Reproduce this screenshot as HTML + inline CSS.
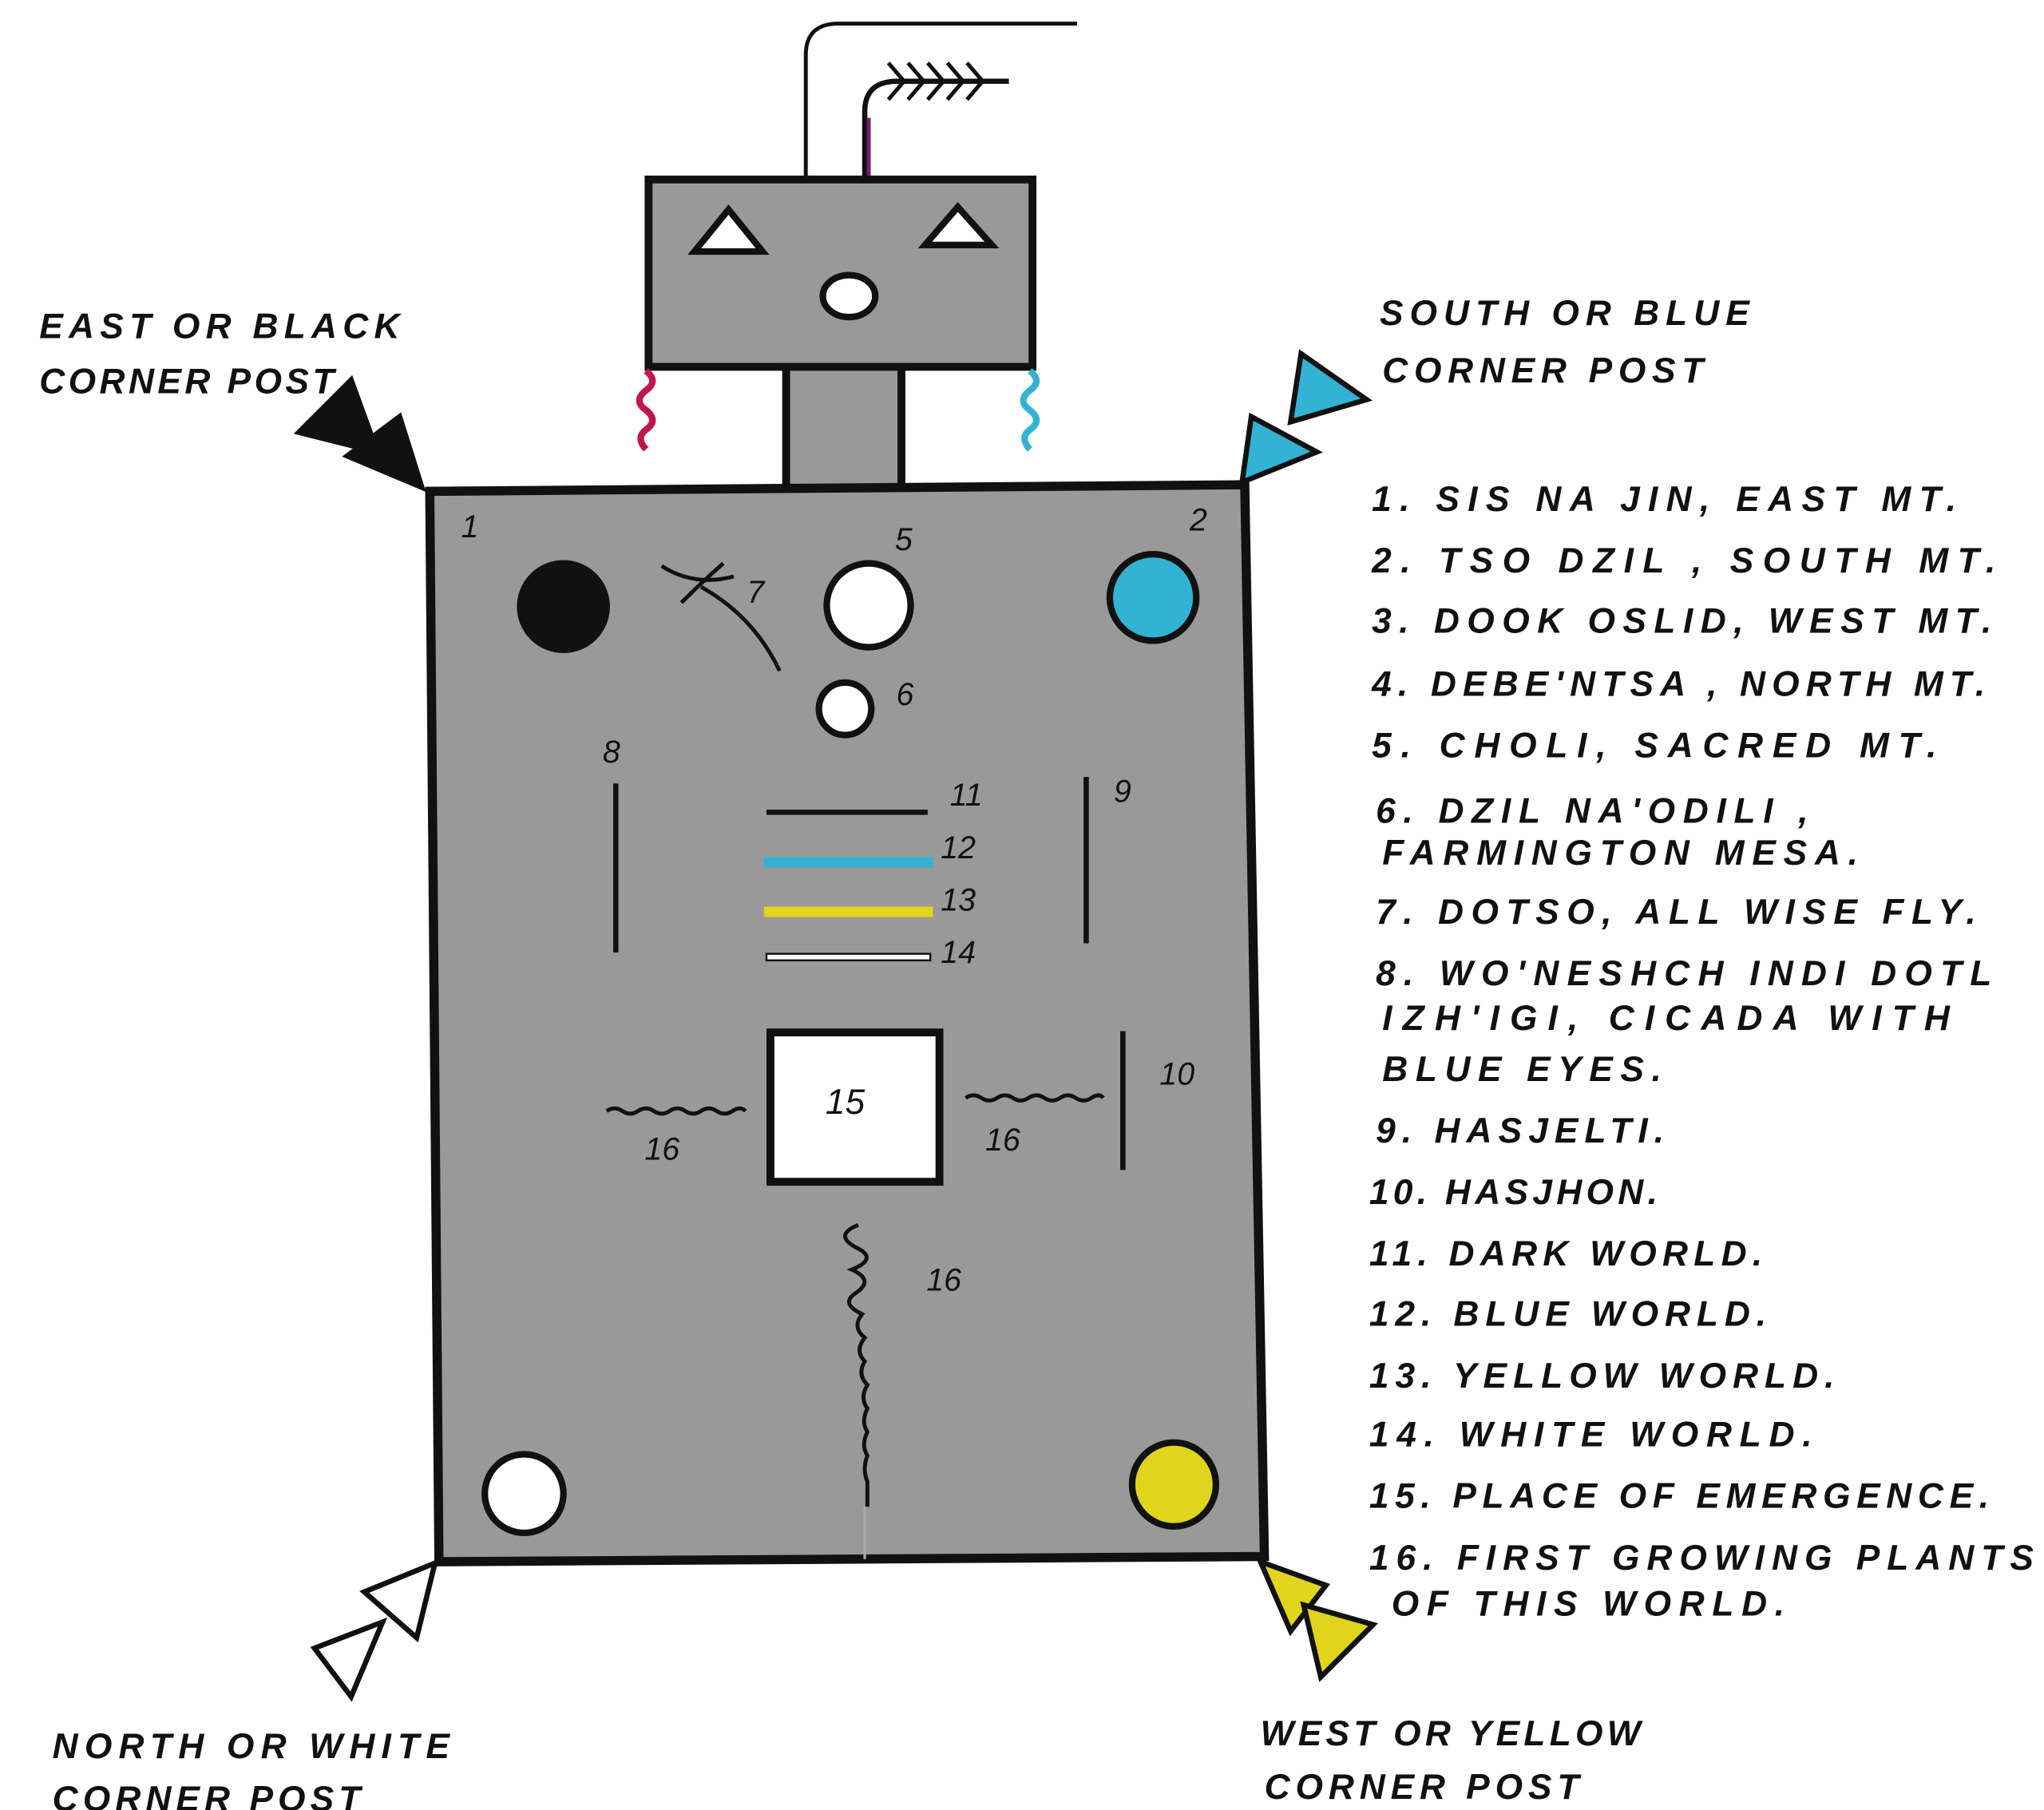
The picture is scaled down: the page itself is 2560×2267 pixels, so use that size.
<!DOCTYPE html>
<html><head><meta charset="utf-8"><style>
html,body{margin:0;padding:0;background:#fff;}
svg{display:block;}
text{font-family:"Liberation Sans",sans-serif;font-style:italic;font-weight:bold;fill:#111;}
.l{font-size:27px;}
.n{font-size:24px;font-weight:normal;}
</style></head><body>
<svg width="2560" height="2267" viewBox="0 0 1560 1381.5" preserveAspectRatio="none" xmlns="http://www.w3.org/2000/svg">
<rect width="1560" height="1382" fill="#fff"/>
<!-- antenna -->
<path d="M615,137 V42 Q615,18 640,18 H822" fill="none" stroke="#111" stroke-width="3"/>
<path d="M660,137 V85 Q660,62 685,62 H770" fill="none" stroke="#111" stroke-width="4"/>
<path d="M663,137 V90" fill="none" stroke="#7a1a6a" stroke-width="3"/>
<g stroke="#111" stroke-width="3" fill="none">
<path d="M690,62 l-12,-14 M690,62 l-12,14 M705,62 l-12,-14 M705,62 l-12,14 M720,62 l-12,-14 M720,62 l-12,14 M735,62 l-12,-14 M735,62 l-12,14 M750,62 l-12,-14 M750,62 l-12,14"/>
</g>
<!-- head -->
<rect x="495" y="137" width="293" height="143" fill="#999" stroke="#111" stroke-width="6"/>
<polygon points="530,192 556,160 582,192" fill="#fff" stroke="#111" stroke-width="5"/>
<polygon points="706,187 731,158 757,187" fill="#fff" stroke="#111" stroke-width="5"/>
<ellipse cx="648" cy="226" rx="20" ry="16" fill="#fff" stroke="#111" stroke-width="5"/>
<!-- neck -->
<rect x="600" y="280" width="88" height="94" fill="#999" stroke="#111" stroke-width="6"/>
<path d="M493,283 q10,8 0,15 q-10,8 0,15 q10,8 0,15 q-8,6 0,15" fill="none" stroke="#c0164a" stroke-width="5"/>
<path d="M786,283 q10,8 0,15 q-10,8 0,15 q10,8 0,15 q-8,6 0,15" fill="none" stroke="#33b3d3" stroke-width="5"/>
<!-- body -->
<polygon points="328,375 950,370 965,1188 335,1192" fill="#999" stroke="#111" stroke-width="7"/>
<!-- corner triangles -->
<polygon points="228,330 268,290 288,345" fill="#111" stroke="#111" stroke-width="4"/>
<polygon points="265,348 305,318 322,372" fill="#111" stroke="#111" stroke-width="4"/>
<polygon points="993,270 1043,305 985,322" fill="#33b3d3" stroke="#111" stroke-width="4"/>
<polygon points="955,318 1005,345 948,368" fill="#33b3d3" stroke="#111" stroke-width="4"/>
<polygon points="278,1215 332,1193 318,1250" fill="#fff" stroke="#111" stroke-width="4"/>
<polygon points="240,1258 292,1238 268,1295" fill="#fff" stroke="#111" stroke-width="4"/>
<polygon points="962,1192 1012,1210 985,1245" fill="#e1d41c" stroke="#111" stroke-width="4"/>
<polygon points="995,1225 1048,1240 1008,1280" fill="#e1d41c" stroke="#111" stroke-width="4"/>
<!-- circles -->
<circle cx="430" cy="463" r="33" fill="#111" stroke="#111" stroke-width="5"/>
<circle cx="663" cy="462" r="32" fill="#fff" stroke="#111" stroke-width="5"/>
<circle cx="880" cy="456" r="33" fill="#33b3d3" stroke="#111" stroke-width="5"/>
<circle cx="645" cy="541" r="20" fill="#fff" stroke="#111" stroke-width="5"/>
<circle cx="400" cy="1140" r="30" fill="#fff" stroke="#111" stroke-width="5"/>
<circle cx="896" cy="1133" r="32" fill="#e1d41c" stroke="#111" stroke-width="5"/>
<!-- fly -->
<path d="M505,432 Q530,448 560,440 M520,460 Q535,445 552,430 M535,448 Q575,470 595,512" fill="none" stroke="#111" stroke-width="3"/>
<!-- lines -->
<line x1="470" y1="598" x2="470" y2="727" stroke="#111" stroke-width="4"/>
<line x1="829" y1="593" x2="829" y2="720" stroke="#111" stroke-width="4"/>
<line x1="857" y1="787" x2="857" y2="893" stroke="#111" stroke-width="4"/>
<line x1="585" y1="620" x2="708" y2="620" stroke="#111" stroke-width="4"/>
<line x1="583" y1="658" x2="712" y2="658" stroke="#33b3d3" stroke-width="8"/>
<line x1="583" y1="696" x2="712" y2="696" stroke="#e1d41c" stroke-width="8"/>
<rect x="585" y="728" width="125" height="5" fill="#fff" stroke="#111" stroke-width="1.5"/>
<rect x="588" y="788" width="129" height="114" fill="#fff" stroke="#111" stroke-width="6"/>
<path d="M463,848 q6,-4 12,0 q6,4 12,0 q6,-4 12,0 q6,4 12,0 q6,-4 12,0 q6,4 12,0 q6,-4 12,0 q6,4 12,0 q6,-4 10,0" fill="none" stroke="#111" stroke-width="3"/>
<path d="M737,838 q6,-4 12,0 q6,4 12,0 q6,-4 12,0 q6,4 12,0 q6,-4 12,0 q6,4 12,0 q6,-4 12,0 q6,4 12,0 q6,-4 9,0" fill="none" stroke="#111" stroke-width="3"/>
<path d="M655,935 q-20,8 0,18 q15,8 -5,16 q18,8 3,18 q-12,8 5,16 q-8,10 2,18 q-8,10 0,18 q-6,10 2,18 q-6,10 0,18 q-5,10 0,18 q-5,10 0,18 q-4,10 0,20 V1150" fill="none" stroke="#111" stroke-width="3"/>
<line x1="660" y1="1150" x2="660" y2="1190" stroke="#aaa" stroke-width="2"/>
<!-- numbers -->
<text class="n" x="352" y="410">1</text>
<text class="n" x="683" y="420">5</text>
<text class="n" x="908" y="405">2</text>
<text class="n" x="570" y="460">7</text>
<text class="n" x="684" y="538">6</text>
<text class="n" x="460" y="582">8</text>
<text class="n" x="850" y="612">9</text>
<text class="n" x="725" y="615">11</text>
<text class="n" x="718" y="655">12</text>
<text class="n" x="718" y="695">13</text>
<text class="n" x="718" y="735">14</text>
<text class="n" x="885" y="828">10</text>
<text class="l" x="630" y="850" style="font-weight:normal">15</text>
<text class="n" x="492" y="885">16</text>
<text class="n" x="752" y="878">16</text>
<text class="n" x="707" y="985">16</text>
<!-- corner labels -->
<text class="l" x="30" y="258" textLength="275" lengthAdjust="spacing">EAST OR BLACK</text>
<text class="l" x="30" y="300" textLength="225" lengthAdjust="spacing">CORNER POST</text>
<text class="l" x="1053" y="248" textLength="282" lengthAdjust="spacing">SOUTH OR BLUE</text>
<text class="l" x="1055" y="292" textLength="245" lengthAdjust="spacing">CORNER  POST</text>
<text class="l" x="40" y="1342" textLength="303" lengthAdjust="spacing">NORTH OR WHITE</text>
<text class="l" x="40" y="1382" textLength="235" lengthAdjust="spacing">CORNER POST</text>
<text class="l" x="962" y="1332" textLength="290" lengthAdjust="spacing">WEST OR YELLOW</text>
<text class="l" x="965" y="1373" textLength="240" lengthAdjust="spacing">CORNER POST</text>
<!-- legend -->
<text class="l" x="1047" y="390" textLength="446" lengthAdjust="spacing">1. SIS NA JIN, EAST MT.</text>
<text class="l" x="1047" y="437" textLength="476" lengthAdjust="spacing">2. TSO DZIL ,  SOUTH MT.</text>
<text class="l" x="1047" y="483" textLength="473" lengthAdjust="spacing">3. DOOK OSLID, WEST MT.</text>
<text class="l" x="1047" y="531" textLength="468" lengthAdjust="spacing">4. DEBE'NTSA , NORTH MT.</text>
<text class="l" x="1047" y="578" textLength="431" lengthAdjust="spacing">5. CHOLI,  SACRED MT.</text>
<text class="l" x="1050" y="628" textLength="330" lengthAdjust="spacing">6. DZIL NA'ODILI ,</text>
<text class="l" x="1055" y="660" textLength="363" lengthAdjust="spacing">FARMINGTON MESA.</text>
<text class="l" x="1050" y="705" textLength="458" lengthAdjust="spacing">7. DOTSO, ALL WISE FLY.</text>
<text class="l" x="1050" y="752" textLength="470" lengthAdjust="spacing">8. WO'NESHCH  INDI DOTL</text>
<text class="l" x="1055" y="786" textLength="433" lengthAdjust="spacing">IZH'IGI, CICADA WITH</text>
<text class="l" x="1055" y="825" textLength="213" lengthAdjust="spacing">BLUE EYES.</text>
<text class="l" x="1050" y="872" textLength="220" lengthAdjust="spacing">9. HASJELTI.</text>
<text class="l" x="1045" y="919" textLength="220" lengthAdjust="spacing">10. HASJHON.</text>
<text class="l" x="1045" y="966" textLength="300" lengthAdjust="spacing">11. DARK WORLD.</text>
<text class="l" x="1045" y="1012" textLength="303" lengthAdjust="spacing">12. BLUE WORLD.</text>
<text class="l" x="1045" y="1059" textLength="355" lengthAdjust="spacing">13. YELLOW WORLD.</text>
<text class="l" x="1045" y="1104" textLength="338" lengthAdjust="spacing">14. WHITE WORLD.</text>
<text class="l" x="1045" y="1151" textLength="473" lengthAdjust="spacing">15. PLACE OF EMERGENCE.</text>
<text class="l" x="1045" y="1198" textLength="507" lengthAdjust="spacing">16. FIRST GROWING PLANTS</text>
<text class="l" x="1062" y="1233" textLength="300" lengthAdjust="spacing">OF THIS WORLD.</text>
</svg>
</body></html>
